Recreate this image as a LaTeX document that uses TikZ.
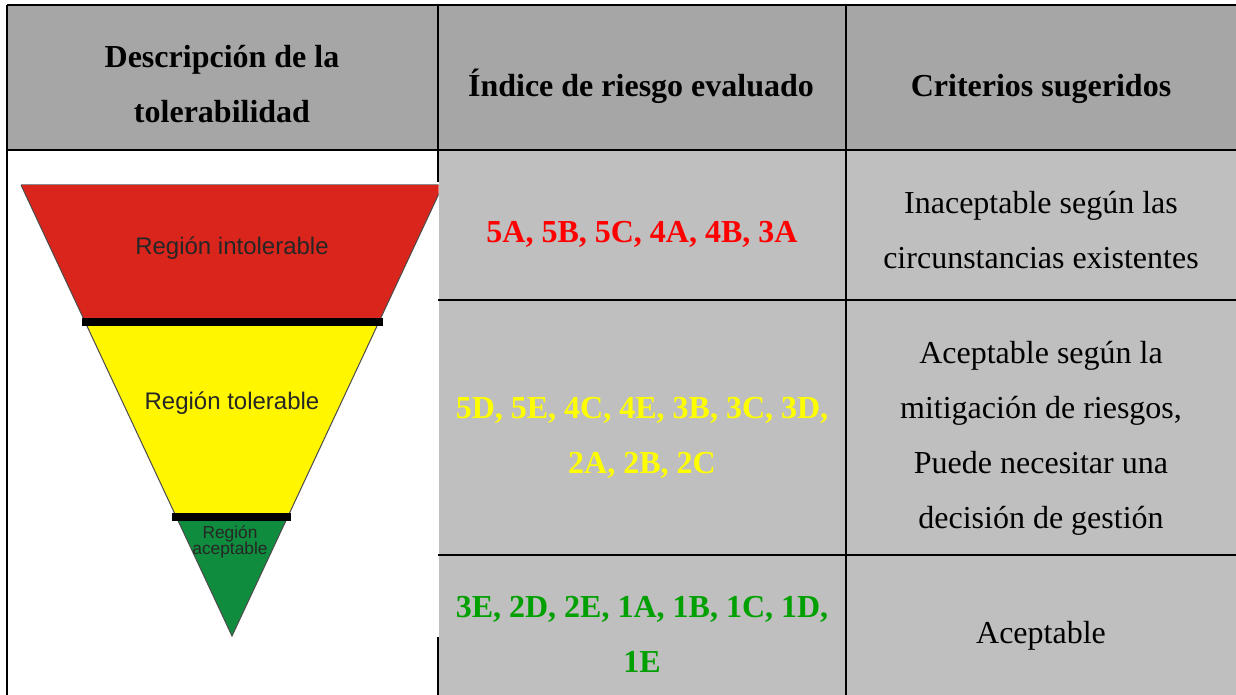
\documentclass[tikz,border=0pt]{standalone}
\usepackage{fontspec}
\setmainfont{Liberation Serif}
\newfontfamily\arialfont{Liberation Sans}
\definecolor{headgray}{RGB}{166,166,166}
\definecolor{cellgray}{RGB}{191,191,191}
\definecolor{redtext}{RGB}{255,0,0}
\definecolor{yellowtext}{RGB}{255,255,0}
\definecolor{greentext}{RGB}{0,160,0}
\definecolor{zonered}{RGB}{218,37,28}
\definecolor{zoneyellow}{RGB}{255,246,0}
\definecolor{zonegreen}{RGB}{16,140,62}
\begin{document}
\begin{tikzpicture}[x=0.75pt,y=-0.75pt,
  head/.style={font=\fontsize{24}{41.25}\selectfont\bfseries,align=center},
  cell/.style={font=\fontsize{24}{41.25}\selectfont,align=center},
  code/.style={font=\fontsize{24}{41.25}\selectfont\bfseries,align=center},
  zone/.style={font=\arialfont\fontsize{18}{20}\selectfont,text=black!85,align=center},
  rule/.style={line width=2pt}]
\useasboundingbox (0,0) rectangle (1236,695);
\fill[headgray] (7,5) rectangle (1236,150);
\fill[cellgray] (438,150) rectangle (1236,695);
% pyramid
\fill[white] (20,182) rectangle (439,637);
\begin{scope}
\clip (0,150) rectangle (438.5,695);
\begin{scope}
\clip (21,185) -- (443,185) -- (232,636) -- cycle;
\fill[zonered] (0,185) rectangle (450,318);
\fill[zoneyellow] (0,318) rectangle (450,513);
\fill[zonegreen] (0,513) rectangle (450,636);
\end{scope}
\draw[black!70,line width=0.75pt] (21,185) -- (232,636) -- (443,185);
\draw[black!45,line width=0.75pt] (21,185) -- (443,185);
\fill[black] (82,318) rectangle (383,326);
\fill[black] (172,513) rectangle (291,521);
\end{scope}
\node[zone] (intol) at (232,248) {Región intolerable};
\node[zone] (tol) at (232,403) {Región tolerable};
\node[zone,font=\arialfont\fontsize{13}{12.5}\selectfont] (acep) at (230,542) {Región\\aceptable};
% headers
\node[head,anchor=base] (desc) at (222,123) {Descripción de la\\tolerabilidad};
\node[head,anchor=base] (indice) at (641,97) {Índice de riesgo evaluado};
\node[head,anchor=base] (crit) at (1041,97) {Criterios sugeridos};
% rows
\node[code,text=redtext,anchor=base] (rojo) at (642,243) {5A, 5B, 5C, 4A, 4B, 3A};
\node[code,text=yellowtext,anchor=base] (amarillo) at (642,473) {5D, 5E, 4C, 4E, 3B, 3C, 3D,\\2A, 2B, 2C};
\node[code,text=greentext,anchor=base] (verde) at (642,672) {3E, 2D, 2E, 1A, 1B, 1C, 1D,\\1E};
\node[cell,anchor=base] (inacep) at (1041,269) {Inaceptable según las\\circunstancias existentes};
\node[cell,anchor=base] (mitig) at (1041,528) {Aceptable según la\\mitigación de riesgos,\\Puede necesitar una\\decisión de gestión};
\node[cell,anchor=base] (acept) at (1041,643) {Aceptable};
% rules
\draw[rule] (7,5) -- (1236,5);
\draw[rule] (7,150) -- (1236,150);
\draw[rule] (438,300) -- (1236,300);
\draw[rule] (438,555) -- (1236,555);
\draw[rule] (7,5) -- (7,695);
\draw[rule] (846,5) -- (846,695);
\draw[rule] (438,5) -- (438,182);
\draw[rule] (438,637) -- (438,695);
\end{tikzpicture}
\end{document}
